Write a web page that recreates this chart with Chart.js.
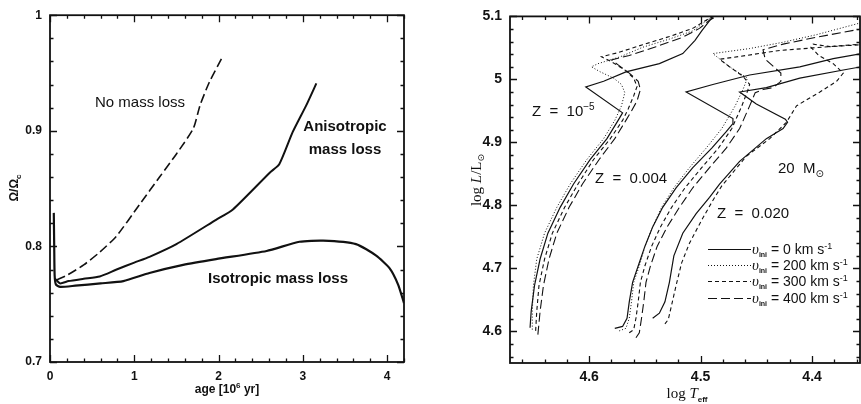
<!DOCTYPE html>
<html>
<head>
<meta charset="utf-8">
<script src="https://cdn.jsdelivr.net/npm/chart.js@4.4.1/dist/chart.umd.min.js"></script>
<style>
  body { margin: 0; background: #fff; width: 861px; height: 404px; overflow: hidden; position: relative; }
  .box { position: absolute; top: 0; height: 404px; }
  #left { left: 0; width: 430px; }
  #right { left: 430px; width: 431px; }
</style>
</head>
<body>
<div class="box" id="left"><canvas id="c1" width="430" height="404"></canvas></div>
<div class="box" id="right"><canvas id="c2" width="431" height="404"></canvas></div>
<script>
// ---- left panel: Omega/Omega_c vs age [10^6 yr]
const ageTicks = [0, 1, 2, 3, 4]
const omegaTicks = [0.7, 0.8, 0.9, 1]
const noMassLoss = [[0.08,0.771],[0.2,0.775],[0.4,0.784],[0.59,0.795],[0.79,0.809],[1.07,0.837],[1.30,0.860],[1.50,0.880],[1.70,0.902],[1.78,0.922],[1.89,0.942],[2.04,0.963]]
const anisoMassLoss = [[0.06,0.772],[0.12,0.768],[0.22,0.770],[0.4,0.772],[0.59,0.774],[0.79,0.780],[1.0,0.786],[1.18,0.791],[1.50,0.802],[1.97,0.823],[2.17,0.832],[2.61,0.864],[2.72,0.871],[2.88,0.899],[3.04,0.922],[3.16,0.941]]
const isoMassLoss = [[0.045,0.829],[0.05,0.800],[0.055,0.775],[0.07,0.767],[0.12,0.765],[0.3,0.766],[0.6,0.768],[0.87,0.770],[1.18,0.777],[1.58,0.784],[1.97,0.789],[2.57,0.796],[2.96,0.804],[3.24,0.805],[3.63,0.802],[3.87,0.792],[4.03,0.781],[4.13,0.767],[4.2,0.751]]

// ---- right panel: HR diagram, 20 Msun tracks [log Teff, log L]
const teffTicks = [4.6, 4.5, 4.4]
const lumTicks = [4.6, 4.7, 4.8, 4.9, 5, 5.1]
const z5_v0 = [[4.653,4.606],[4.652,4.632],[4.649,4.673],[4.644,4.715],[4.637,4.756],[4.626,4.797],[4.614,4.834],[4.599,4.873],[4.584,4.906],[4.574,4.935],[4.570,4.947],[4.603,4.988],[4.587,4.997],[4.567,5.012],[4.537,5.025],[4.516,5.041],[4.505,5.062],[4.499,5.077],[4.489,5.100]]
const z5_v200 = [[4.651,4.603],[4.651,4.632],[4.650,4.673],[4.647,4.715],[4.640,4.756],[4.629,4.797],[4.617,4.834],[4.602,4.873],[4.587,4.906],[4.577,4.935],[4.571,4.958],[4.568,4.979],[4.571,4.992],[4.578,5.002],[4.590,5.012],[4.598,5.020],[4.592,5.025],[4.572,5.036],[4.552,5.051],[4.528,5.064],[4.507,5.077],[4.495,5.093],[4.489,5.100]]
const z5_v300 = [[4.648,4.601],[4.647,4.632],[4.645,4.673],[4.640,4.715],[4.633,4.756],[4.622,4.797],[4.610,4.834],[4.596,4.873],[4.581,4.906],[4.570,4.935],[4.565,4.953],[4.560,4.974],[4.557,4.989],[4.560,5.002],[4.568,5.015],[4.580,5.028],[4.589,5.036],[4.575,5.042],[4.552,5.055],[4.528,5.068],[4.507,5.081],[4.495,5.094],[4.489,5.100]]
const z5_v400 = [[4.646,4.595],[4.644,4.632],[4.641,4.673],[4.636,4.715],[4.629,4.756],[4.618,4.797],[4.606,4.834],[4.591,4.873],[4.577,4.906],[4.567,4.935],[4.562,4.950],[4.557,4.966],[4.554,4.984],[4.556,4.997],[4.564,5.010],[4.574,5.023],[4.580,5.031],[4.564,5.038],[4.540,5.052],[4.516,5.067],[4.501,5.081],[4.492,5.094],[4.486,5.100]]
const z004_v0 = [[4.577,4.605],[4.570,4.608],[4.566,4.621],[4.564,4.647],[4.561,4.678],[4.556,4.704],[4.550,4.735],[4.543,4.766],[4.534,4.797],[4.522,4.828],[4.507,4.860],[4.490,4.891],[4.477,4.917],[4.471,4.930],[4.471,4.938],[4.513,4.980],[4.489,4.992],[4.456,5.007],[4.411,5.020],[4.381,5.033],[4.356,5.041]]
const z004_v200 = [[4.573,4.601],[4.567,4.605],[4.564,4.621],[4.562,4.647],[4.560,4.678],[4.555,4.704],[4.550,4.735],[4.543,4.766],[4.535,4.797],[4.524,4.828],[4.510,4.860],[4.495,4.891],[4.481,4.922],[4.469,4.958],[4.462,4.984],[4.458,5.002],[4.474,5.020],[4.489,5.041],[4.456,5.049],[4.426,5.059],[4.396,5.071],[4.356,5.090]]
const z004_v300 = [[4.564,4.598],[4.560,4.603],[4.558,4.621],[4.556,4.647],[4.554,4.678],[4.550,4.704],[4.544,4.735],[4.536,4.766],[4.526,4.797],[4.514,4.828],[4.499,4.860],[4.484,4.891],[4.472,4.922],[4.463,4.958],[4.458,4.981],[4.456,4.992],[4.462,5.005],[4.474,5.020],[4.483,5.032],[4.459,5.038],[4.429,5.046],[4.399,5.050],[4.356,5.056]]
const z004_v400 = [[4.558,4.590],[4.555,4.598],[4.553,4.621],[4.551,4.647],[4.549,4.678],[4.545,4.704],[4.539,4.735],[4.530,4.766],[4.519,4.797],[4.507,4.828],[4.492,4.860],[4.477,4.891],[4.465,4.922],[4.456,4.958],[4.451,4.979],[4.444,4.984],[4.435,4.987],[4.428,4.997],[4.428,5.010],[4.435,5.021],[4.442,5.032],[4.444,5.047],[4.426,5.056],[4.396,5.067],[4.356,5.080]]
const z020_v0 = [[4.543,4.621],[4.537,4.629],[4.532,4.647],[4.528,4.678],[4.524,4.720],[4.516,4.756],[4.504,4.787],[4.492,4.813],[4.483,4.834],[4.465,4.870],[4.441,4.906],[4.426,4.922],[4.422,4.932],[4.424,4.937],[4.450,4.961],[4.465,4.980],[4.441,4.987],[4.411,5.002],[4.372,5.015],[4.356,5.020]]
const z020_v300 = [[4.532,4.612],[4.529,4.619],[4.526,4.642],[4.522,4.673],[4.517,4.709],[4.510,4.740],[4.499,4.777],[4.489,4.808],[4.481,4.831],[4.459,4.878],[4.438,4.906],[4.423,4.932],[4.414,4.958],[4.393,4.980],[4.378,4.997],[4.372,5.010],[4.381,5.025],[4.394,5.038],[4.401,5.051],[4.399,5.056],[4.384,5.052],[4.356,5.055]]

const legendLabels = ['0', '200', '300', '400']

const SANS = '"Liberation Sans", Arial, sans-serif'
const SERIF = '"Liberation Serif", "DejaVu Serif", serif'
const INK = '#111'

// line styles for the four velocities
const vStyle = [
  { borderDash: [], borderWidth: 1.2 },
  { borderDash: [1, 2], borderWidth: 1 },
  { borderDash: [4, 3], borderWidth: 1.1 },
  { borderDash: [9, 4], borderWidth: 1.1 },
]

function richText(ctx, x, y, parts, align) {
  let w = 0
  parts.forEach(p => { ctx.font = p[1]; w += ctx.measureText(p[0]).width })
  let cx = align === 'center' ? x - w / 2 : (align === 'right' ? x - w : x)
  ctx.textAlign = 'left'
  ctx.textBaseline = 'alphabetic'
  parts.forEach(p => {
    ctx.font = p[1]
    ctx.fillText(p[0], cx, y + (p[2] || 0))
    cx += ctx.measureText(p[0]).width
  })
}

function tickList(from, to, step, major) {
  let out = []
  let n = Math.round((to - from) / step)
  for (let i = 0; i <= n; i++) {
    let v = from + i * step
    out.push([v, Math.abs(v / major - Math.round(v / major)) < 1e-6])
  }
  return out
}

// frame + inward ticks on all four sides, placed through the chart scales
const frameTicks = {
  id: 'frameTicks',
  afterDatasetsDraw(chart, args, opts) {
    const { ctx, chartArea: a, scales: { x, y } } = chart
    ctx.save()
    ctx.strokeStyle = INK
    ctx.setLineDash([])
    ctx.lineWidth = 1.8
    ctx.strokeRect(a.left, a.top, a.right - a.left, a.bottom - a.top)
    ctx.lineWidth = 1.3
    ctx.beginPath()
    opts.xt.forEach(([v, mj]) => {
      let px = Math.round(x.getPixelForValue(v)) + 0.5
      let l = mj ? 7 : 3.5
      ctx.moveTo(px, a.bottom); ctx.lineTo(px, a.bottom - l)
      ctx.moveTo(px, a.top); ctx.lineTo(px, a.top + l)
    })
    opts.yt.forEach(([v, mj]) => {
      let py = Math.round(y.getPixelForValue(v)) + 0.5
      let l = mj ? 7 : 3.5
      ctx.moveTo(a.left, py); ctx.lineTo(a.left + l, py)
      ctx.moveTo(a.right, py); ctx.lineTo(a.right - l, py)
    })
    ctx.stroke()
    ctx.restore()
  }
}

const leftText = {
  id: 'leftText',
  afterDraw(chart) {
    const ctx = chart.ctx
    ctx.save()
    ctx.fillStyle = INK
    richText(ctx, 140, 107, [['No mass loss', '15px ' + SANS]], 'center')
    richText(ctx, 345, 131, [['Anisotropic', 'bold 15px ' + SANS]], 'center')
    richText(ctx, 345, 154, [['mass loss', 'bold 15px ' + SANS]], 'center')
    richText(ctx, 278, 283, [['Isotropic mass loss', 'bold 15px ' + SANS]], 'center')
    richText(ctx, 227, 393, [['age [10', 'bold 12px ' + SANS], ['6', 'bold 8px ' + SANS, -5], [' yr]', 'bold 12px ' + SANS]], 'center')
    ctx.translate(18, 188)
    ctx.rotate(-Math.PI / 2)
    richText(ctx, 0, 0, [['Ω/Ω', 'bold 12px ' + SANS], ['c', 'bold 8px ' + SANS, 3]], 'center')
    ctx.restore()
  }
}

const rightText = {
  id: 'rightText',
  afterDraw(chart) {
    const ctx = chart.ctx
    ctx.save()
    ctx.fillStyle = INK
    richText(ctx, 102, 116, [['Z  =  10', '15px ' + SANS], ['−5', '10px ' + SANS, -6]])
    richText(ctx, 165, 183, [['Z  =  0.004', '15px ' + SANS]])
    richText(ctx, 348, 173, [['20  M', '15px ' + SANS], ['⊙', '10px "DejaVu Sans"', 4]])
    richText(ctx, 287, 218, [['Z  =  0.020', '15px ' + SANS]])
    // legend
    const rows = [249, 265, 281, 298]
    rows.forEach((ry, i) => {
      ctx.strokeStyle = INK
      ctx.lineWidth = vStyle[i].borderWidth
      ctx.setLineDash(vStyle[i].borderDash)
      ctx.beginPath()
      ctx.moveTo(278, ry + 0.5)
      ctx.lineTo(321, ry + 0.5)
      ctx.stroke()
      richText(ctx, 322, ry + 5, [
        ['υ', 'italic 15px ' + SERIF],
        ['ini', 'bold 7px ' + SANS, 3],
        [' = ' + legendLabels[i] + ' km s', '14px ' + SANS],
        ['-1', '9px ' + SANS, -5]
      ])
    })
    ctx.setLineDash([])
    richText(ctx, 257, 398, [['log ', '15px ' + SERIF], ['T', 'italic 15px ' + SERIF], ['eff', 'bold 8px ' + SANS, 4]], 'center')
    ctx.translate(51, 180)
    ctx.rotate(-Math.PI / 2)
    richText(ctx, 0, 0, [['log ', '15px ' + SERIF], ['L', 'italic 15px ' + SERIF], ['/L', '15px ' + SERIF], ['⊙', '9px "DejaVu Sans"', 3]], 'center')
    ctx.restore()
  }
}

function lineSet(data, style, tension) {
  return {
    data,
    showLine: true,
    pointRadius: 0,
    borderColor: INK,
    borderWidth: style.borderWidth,
    borderDash: style.borderDash,
    tension: tension || 0,
    fill: false,
  }
}

function axis(min, max, ticks, size, pad, extra) {
  return Object.assign({
    type: 'linear',
    min, max,
    grid: { display: false, drawTicks: false },
    border: { display: false },
    afterBuildTicks: s => { s.ticks = ticks.map(v => ({ value: v })) },
    ticks: {
      autoSkip: false,
      maxRotation: 0,
      padding: pad,
      color: INK,
      font: { family: SANS, size, weight: 'bold' },
      callback: v => String(v),
    },
  }, extra)
}

Chart.defaults.animation = false

new Chart(document.getElementById('c1'), {
  type: 'scatter',
  data: {
    datasets: [
      lineSet(noMassLoss, { borderDash: [9, 4], borderWidth: 1.6 }, 0.2),
      lineSet(anisoMassLoss, { borderDash: [], borderWidth: 2 }, 0.2),
      lineSet(isoMassLoss, { borderDash: [], borderWidth: 2.2 }, 0.2),
    ]
  },
  options: {
    responsive: false,
    devicePixelRatio: 1,
    events: [],
    layout: { padding: { left: 0, right: 26, top: 7, bottom: 0 } },
    plugins: {
      legend: { display: false },
      tooltip: { enabled: false },
      frameTicks: { xt: tickList(0, 4.2, 0.2, 1), yt: tickList(0.7, 1, 0.02, 0.1) },
    },
    scales: {
      x: axis(0, 4.2, ageTicks, 12, 7, { afterFit: s => { s.height = 42 } }),
      y: axis(0.7, 1, omegaTicks, 12, 8, { afterFit: s => { s.width = 50 } }),
    }
  },
  plugins: [frameTicks, leftText]
})

new Chart(document.getElementById('c2'), {
  type: 'scatter',
  data: {
    datasets: [
      lineSet(z5_v0, vStyle[0]), lineSet(z5_v200, vStyle[1]), lineSet(z5_v300, vStyle[2]), lineSet(z5_v400, vStyle[3]),
      lineSet(z004_v0, vStyle[0]), lineSet(z004_v200, vStyle[1]), lineSet(z004_v300, vStyle[2]), lineSet(z004_v400, vStyle[3]),
      lineSet(z020_v0, vStyle[0]), lineSet(z020_v300, vStyle[2]),
    ]
  },
  options: {
    responsive: false,
    devicePixelRatio: 1,
    events: [],
    layout: { padding: { left: 0, right: 1, top: 8, bottom: 0 } },
    plugins: {
      legend: { display: false },
      tooltip: { enabled: false },
      frameTicks: { xt: tickList(4.36, 4.66, 0.02, 0.1), yt: tickList(4.56, 5.1, 0.02, 0.1) },
    },
    scales: {
      x: axis(4.357, 4.671, teffTicks, 14, 6, { reverse: true, afterFit: s => { s.height = 41 } }),
      y: axis(4.55, 5.1, lumTicks, 14, 8, { afterFit: s => { s.width = 80 } }),
    }
  },
  plugins: [frameTicks, rightText]
})
</script>
</body>
</html>
